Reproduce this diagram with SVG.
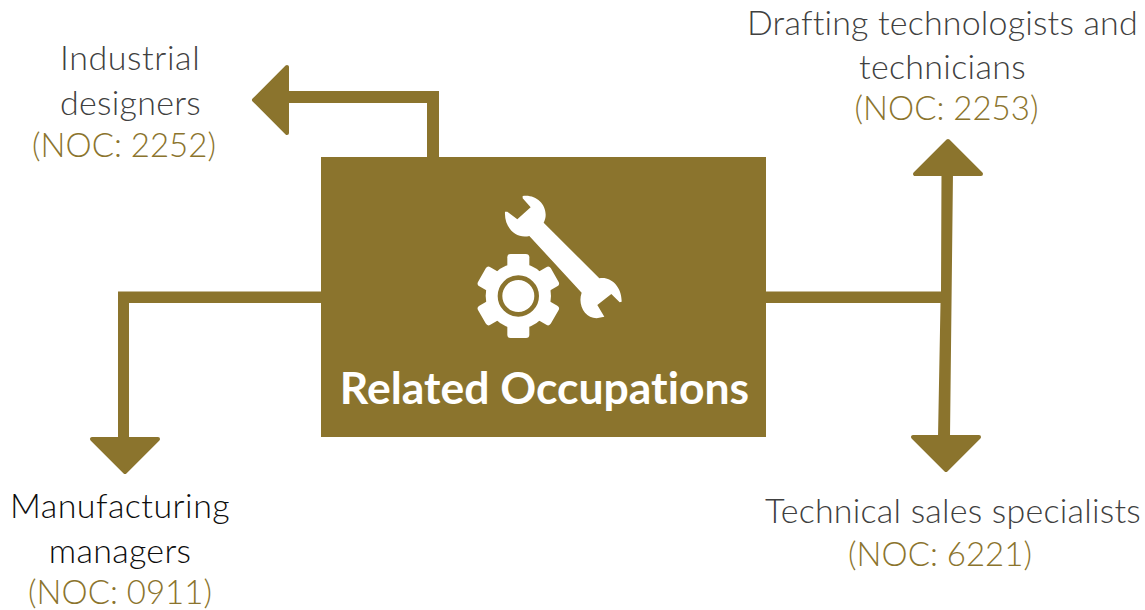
<svg xmlns="http://www.w3.org/2000/svg" width="1145" height="610" viewBox="0 0 1145 610">
<style>
text{font-family:"Lato","Liberation Sans",sans-serif;font-weight:300;font-size:34px;letter-spacing:.3px;text-anchor:middle;font-variant-ligatures:none}
.d{fill:#404040}.k{fill:#0d0d0d}.g{fill:#8b742d;font-size:33px;letter-spacing:0}
.l{fill:#8b742d;stroke:none}
.h{fill:#8b742d;stroke:#8b742d;stroke-width:4;stroke-linejoin:round}
.w{fill:#fff}
</style>
<rect width="1145" height="610" fill="#fff"/>
<g id="connectors">
<path class="l" d="M427 157V103H287V91H439V157Z"/>
<polygon class="h" points="254,100 287,67 287,133"/>
<path class="l" d="M321 291.500H118V439H129V303H321Z"/>
<polygon class="h" points="92,439 158,439 125,472"/>
<path class="l" d="M766 291.500H941L941.500 172H953L950 437H938L940.500 303H766Z"/>
<polygon class="h" points="915,174 981,174 948,141"/>
<polygon class="h" points="913,437 979,437 946,470"/>
</g>
<g id="node-center">
<rect x="321" y="157" width="445" height="280" fill="#8b742d"/>
<g transform="translate(440 170) scale(.3333)">
<path class="w" d="M248 78C285 72 318 100 317 135C317 143 315 150 311 158L478 325C512 318 546 350 545 395L539 397L514 372L472 405L493 440L470 445C435 445 412 405 425 368L268 198C230 208 192 175 195 125L202 125L232 148L272 112L248 85Z"/>
<g transform="translate(235 378)">
<circle r="98" class="w"/>
<g id="teeth">
<rect class="w" x="-33" y="-126" width="66" height="50" rx="10"/>
<rect class="w" x="-33" y="-126" width="66" height="50" rx="10" transform="rotate(60)"/>
<rect class="w" x="-33" y="-126" width="66" height="50" rx="10" transform="rotate(120)"/>
<rect class="w" x="-33" y="-126" width="66" height="50" rx="10" transform="rotate(180)"/>
<rect class="w" x="-33" y="-126" width="66" height="50" rx="10" transform="rotate(240)"/>
<rect class="w" x="-33" y="-126" width="66" height="50" rx="10" transform="rotate(300)"/>
</g>
<circle r="55" fill="#fff" stroke="#8b742d" stroke-width="14"/>
</g>
</g>
<text x="544.500" y="404" style="font-weight:700;font-size:44.500px;letter-spacing:0" fill="#fff">Related Occupations</text>
</g>
<g id="node-industrial">
<text class="d" x="130" y="70" textLength="140">Industrial</text>
<text class="d" x="130.500" y="115" textLength="141">designers</text>
<text class="g" x="124" y="157">(NOC: 2252)</text>
</g>
<g id="node-drafting">
<text class="d" x="942.500" y="35" textLength="391">Drafting technologists and</text>
<text class="d" x="942.500" y="79">technicians</text>
<text class="g" x="946.500" y="120">(NOC: 2253)</text>
</g>
<g id="node-manufacturing">
<text class="k" x="120" y="518" textLength="220">Manufacturing</text>
<text class="k" x="120" y="563">managers</text>
<text class="g" x="120" y="604">(NOC: 0911)</text>
</g>
<g id="node-sales">
<text class="d" x="953" y="523" textLength="376">Technical sales specialists</text>
<text class="g" x="940" y="566">(NOC: 6221)</text>
</g>
</svg>
